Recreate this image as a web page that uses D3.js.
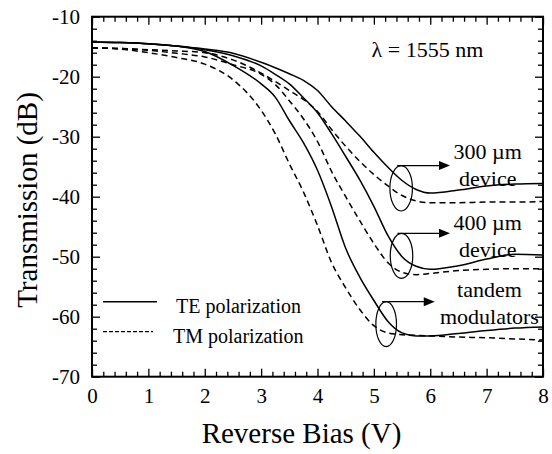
<!DOCTYPE html>
<html>
<head>
<meta charset="utf-8">
<script src="https://cdn.jsdelivr.net/npm/d3@7"></script>
<style>
  body { margin: 0; background: #fff; }
  svg { display: block; }
  text { font-family: "Liberation Serif", "Times New Roman", serif; fill: #000; }
</style>
</head>
<body>
<div id="chart"></div>
<script>
// reverse bias (V) sample points, shared by every curve
const voltage = [0, 0.5, 1, 1.5, 2, 2.5, 3, 3.25, 3.5, 3.75, 4, 4.25, 4.5, 4.75, 5, 5.25, 5.5, 5.75, 6, 6.5, 7, 7.5, 8];

// transmission (dB)
const te300 = [-14.2, -14.3, -14.5, -14.9, -15.4, -16.1, -17.6, -18.5, -19.5, -20.6, -22.3, -25.0, -27.4, -29.9, -32.6, -35.1, -37.3, -38.8, -39.4, -38.9, -38.2, -37.9, -37.8];
const tm300 = [-15.2, -15.3, -15.5, -15.7, -16.0, -17.2, -19.4, -20.8, -22.3, -23.8, -25.8, -28.8, -31.6, -34.1, -36.3, -38.2, -39.8, -40.7, -41.0, -41.0, -40.9, -40.9, -40.8];
const te400 = [-14.2, -14.3, -14.5, -14.9, -15.5, -16.5, -18.2, -19.6, -21.2, -23.5, -26.0, -29.5, -33.3, -37.2, -41.6, -46.5, -50.0, -51.6, -52.1, -51.5, -50.4, -49.6, -49.7];
const tm400 = [-15.2, -15.3, -15.6, -16.1, -16.7, -18.0, -19.6, -21.3, -24.0, -27.0, -30.8, -35.8, -40.0, -44.0, -47.8, -51.0, -52.6, -53.0, -52.8, -52.3, -52.1, -52.0, -52.0];
const teTandem = [-14.2, -14.3, -14.5, -14.9, -15.8, -18.1, -21.2, -23.4, -27.3, -31.0, -35.6, -41.7, -48.6, -53.4, -57.3, -60.8, -62.7, -63.2, -63.2, -62.8, -62.3, -61.9, -61.7];
const tmTandem = [-15.2, -15.4, -16.0, -16.8, -17.9, -20.5, -25.6, -29.5, -34.5, -39.2, -44.8, -51.0, -55.2, -58.8, -61.5, -62.7, -63.0, -63.1, -63.2, -63.4, -63.5, -63.7, -63.9];

const xTicks = [0, 1, 2, 3, 4, 5, 6, 7, 8];
const yTicks = [-70, -60, -50, -40, -30, -20, -10];
const legendLabels = ["TE polarization", "TM polarization"];
const deviceLabels = [["300 \u00b5m", "device"], ["400 \u00b5m", "device"], ["tandem", "modulators"]];
const wavelengthLabel = "\u03bb = 1555 nm";

const W = 552, H = 454;
const margin = {left: 92, right: 9, top: 16.7, bottom: 77.3};
const iw = W - margin.left - margin.right;
const ih = H - margin.top - margin.bottom;

const svg = d3.select("#chart").append("svg")
  .attr("width", W)
  .attr("height", H);

const g = svg.append("g").attr("transform", `translate(${margin.left},${margin.top})`);

const x = d3.scaleLinear().domain([0, 8]).range([0, iw]);
const y = d3.scaleLinear().domain([-70, -10]).range([ih, 0]);

// minor + major ticks, all pointing inward
const xMinor = d3.range(0, 8.001, 0.2).filter(v => Math.abs(v - Math.round(v)) > 0.01);
const yMinor = d3.range(-70, -9.99, 2).filter(v => v % 10 !== 0);

// plain hyphen like the original, not the unicode minus
const plain = d => String(d);

function styleAxis(sel) {
  sel.select(".domain").remove();
  sel.selectAll(".tick line").attr("stroke", "#000").attr("stroke-width", 1.3);
}

g.append("g").attr("transform", `translate(0,${ih})`)
  .call(d3.axisBottom(x).tickValues(xTicks).tickSizeInner(-8).tickSizeOuter(0).tickPadding(11).tickFormat(plain))
  .call(styleAxis)
  .selectAll("text").style("font-size", "21px");
g.append("g").attr("transform", `translate(0,${ih})`)
  .call(d3.axisBottom(x).tickValues(xMinor).tickSizeInner(-5).tickSizeOuter(0).tickFormat(""))
  .call(styleAxis);
g.append("g")
  .call(d3.axisTop(x).tickValues(xTicks).tickSizeInner(-8).tickSizeOuter(0).tickFormat(""))
  .call(styleAxis);
g.append("g")
  .call(d3.axisTop(x).tickValues(xMinor).tickSizeInner(-5).tickSizeOuter(0).tickFormat(""))
  .call(styleAxis);

g.append("g")
  .call(d3.axisLeft(y).tickValues(yTicks).tickSizeInner(-8).tickSizeOuter(0).tickPadding(12).tickFormat(plain))
  .call(styleAxis)
  .selectAll("text").style("font-size", "21px");
g.append("g")
  .call(d3.axisLeft(y).tickValues(yMinor).tickSizeInner(-5).tickSizeOuter(0).tickFormat(""))
  .call(styleAxis);
g.append("g").attr("transform", `translate(${iw},0)`)
  .call(d3.axisRight(y).tickValues(yTicks).tickSizeInner(-8).tickSizeOuter(0).tickFormat(""))
  .call(styleAxis);
g.append("g").attr("transform", `translate(${iw},0)`)
  .call(d3.axisRight(y).tickValues(yMinor).tickSizeInner(-5).tickSizeOuter(0).tickFormat(""))
  .call(styleAxis);

g.append("rect")
  .attr("width", iw).attr("height", ih)
  .attr("fill", "none").attr("stroke", "#000").attr("stroke-width", 2);

// curves
const curves = [
  {values: te300, dash: null},
  {values: tm300, dash: "6,4"},
  {values: te400, dash: null},
  {values: tm400, dash: "6,4"},
  {values: teTandem, dash: null},
  {values: tmTandem, dash: "6,4"}
];

const line = d3.line()
  .x((d, i) => x(voltage[i]))
  .y(d => y(d))
  .curve(d3.curveMonotoneX);

g.selectAll("path.curve")
  .data(curves)
  .enter()
  .append("path")
  .attr("class", "curve")
  .attr("d", d => line(d.values))
  .attr("fill", "none")
  .attr("stroke", "#000")
  .attr("stroke-width", 1.5)
  .attr("stroke-dasharray", d => d.dash);

// ellipses, arrows and device labels
const marks = [
  {cx: 5.484, cy: -38.6, rx: 0.2, ry: 3.78, tip: 6.35, lx: 7.02, ly: -33.7},
  {cx: 5.49, cy: -49.85, rx: 0.2, ry: 3.75, tip: 6.35, lx: 7.02, ly: -45.5},
  {cx: 5.218, cy: -61.25, rx: 0.183, ry: 3.75, tip: 6.08, lx: 7.05, ly: -56.8}
];

marks.forEach((m, i) => {
  const ex = x(m.cx), ey = y(m.cy);
  const rx = x(m.rx) - x(0), ry = y(m.cy - m.ry) - ey;
  g.append("ellipse")
    .attr("cx", ex).attr("cy", ey)
    .attr("rx", rx).attr("ry", ry)
    .attr("fill", "none").attr("stroke", "#000").attr("stroke-width", 1.2);

  const ay = ey - ry;
  const tx = x(m.tip);
  g.append("line")
    .attr("x1", ex - 4).attr("y1", ay)
    .attr("x2", tx - 9).attr("y2", ay)
    .attr("stroke", "#000").attr("stroke-width", 1.3);
  g.append("path")
    .attr("d", `M${tx},${ay} L${tx - 11},${ay - 4.5} L${tx - 11},${ay + 4.5} Z`)
    .attr("fill", "#000");

  const t = g.append("text")
    .attr("x", x(m.lx)).attr("y", y(m.ly))
    .attr("text-anchor", "middle")
    .style("font-size", "22px");
  deviceLabels[i].forEach((s, k) => {
    t.append("tspan").attr("x", x(m.lx)).attr("dy", k === 0 ? 0 : 27).text(s);
  });
});

g.append("text")
  .attr("x", x(4.96)).attr("y", y(-16.7))
  .style("font-size", "22px")
  .text(wavelengthLabel);

// legend
const legend = g.append("g");
legendLabels.forEach((s, i) => {
  const ly = 285 + i * 30;
  legend.append("line")
    .attr("x1", 11).attr("x2", i === 0 ? 65 : 61)
    .attr("y1", ly).attr("y2", ly)
    .attr("stroke", "#000").attr("stroke-width", i === 0 ? 1.6 : 1.3)
    .attr("stroke-dasharray", i === 0 ? null : "4,2");
  legend.append("text")
    .attr("x", 84 - i * 3).attr("y", ly + 11)
    .style("font-size", "20px")
    .text(s);
});

// axis titles
svg.append("text")
  .attr("x", margin.left + iw / 2 - 16).attr("y", 443)
  .attr("text-anchor", "middle")
  .style("font-size", "29px")
  .text("Reverse Bias (V)");

svg.append("text")
  .attr("transform", "translate(37,200) rotate(-90)")
  .attr("text-anchor", "middle")
  .style("font-size", "29px")
  .text("Transmission (dB)");
</script>
</body>
</html>
